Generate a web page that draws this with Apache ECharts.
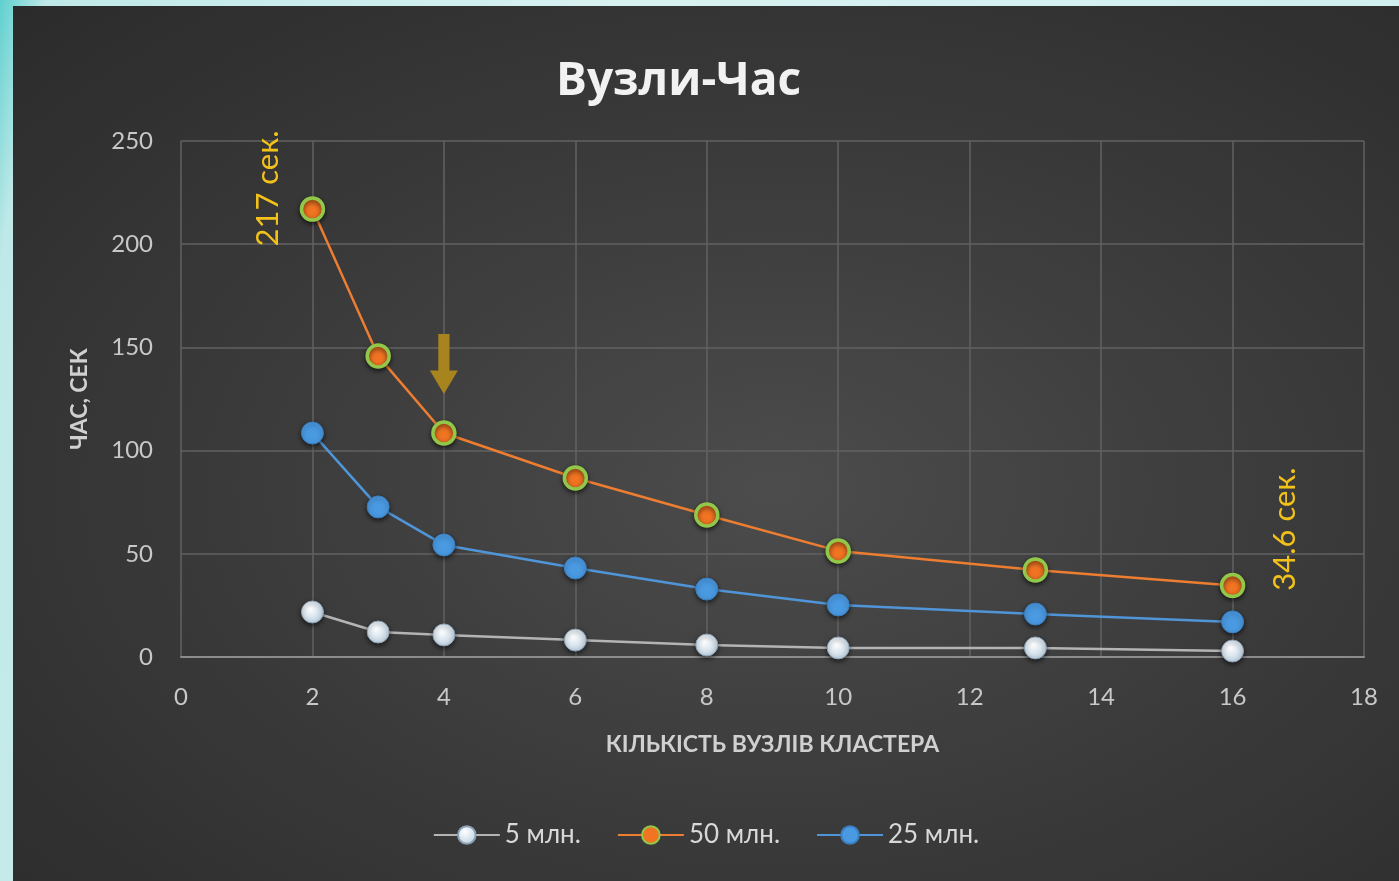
<!DOCTYPE html>
<html>
<head>
<meta charset="utf-8">
<script src="https://cdn.jsdelivr.net/npm/echarts@6/dist/echarts.min.js"></script>
<style>
  html, body { margin: 0; padding: 0; width: 1399px; height: 881px; overflow: hidden; }
  body { background: linear-gradient(100deg, #5fd0cf 0%, #bfe9e8 3%, #d8f1f1 40%, #cfeeee 100%); position: relative; }
  #chart {
    position: absolute; left: 13px; top: 6px; width: 1386px; height: 875px;
    background: radial-gradient(ellipse at 55% 55%, #4c4c4c 0%, #3c3c3c 45%, #2b2b2b 100%);
  }
</style>
</head>
<body>
<div id="chart"></div>
<script>
  // вузли кластера
  const nodes = [2, 3, 4, 6, 8, 10, 13, 16];
  // час, сек
  const time5 = [21.8, 12.1, 10.7, 8.2, 5.8, 4.4, 4.4, 2.9];
  const time50 = [217, 145.8, 108.5, 86.7, 68.8, 51.4, 42.2, 34.6];
  const time25 = [108.5, 72.7, 54.3, 43.1, 32.9, 25.2, 20.8, 17];
  const seriesNames = ['5 млн.', '50 млн.', '25 млн.'];

  const pairs = arr => nodes.map((n, i) => [n, arr[i]]);

  const chart = echarts.init(document.getElementById('chart'));
  const font = 'Lato, "Open Sans", sans-serif';

  // підпис-примітка (без маркера)
  const note = (coord, text) => ({
    coord: coord,
    symbol: 'circle',
    symbolSize: 2,
    itemStyle: { color: 'rgba(0,0,0,0)', borderWidth: 0, shadowBlur: 0 },
    label: {
      show: true, formatter: text, rotate: 90, position: 'inside',
      color: '#f2c21a', fontSize: 31, fontFamily: font
    }
  });

  const option = {
    backgroundColor: 'transparent',
    title: {
      text: 'Вузли-Час',
      left: 538,
      top: 48,
      textStyle: { color: '#f2f2f2', fontSize: 46, fontWeight: 'bold', fontFamily: '"Open Sans", sans-serif' }
    },
    legend: {
      bottom: 28,
      left: 'center',
      itemWidth: 66,
      itemHeight: 22,
      itemGap: 36,
      data: seriesNames,
      textStyle: { color: '#d8d8d8', fontSize: 26, fontFamily: font }
    },
    grid: { left: 168, right: 35, top: 135, bottom: 224 },
    xAxis: {
      type: 'value',
      min: 0, max: 18, interval: 2,
      name: 'КІЛЬКІСТЬ ВУЗЛІВ КЛАСТЕРА',
      nameLocation: 'middle',
      nameGap: 76,
      nameTextStyle: { color: '#d0d0d0', fontSize: 23, fontWeight: 'bold', fontFamily: font },
      axisLine: { lineStyle: { color: '#8c8c8c', width: 2 } },
      axisTick: { show: false },
      axisLabel: { color: '#c8c8c8', fontSize: 24, margin: 28, fontFamily: font },
      splitLine: { show: true, lineStyle: { color: '#626262', width: 1.5 } }
    },
    yAxis: {
      type: 'value',
      min: 0, max: 250, interval: 50,
      name: 'ЧАС, СЕК',
      nameLocation: 'middle',
      nameGap: 90,
      nameTextStyle: { color: '#d0d0d0', fontSize: 23, fontWeight: 'bold', fontFamily: font },
      axisLine: { show: false },
      axisTick: { show: false },
      axisLabel: { color: '#c8c8c8', fontSize: 24, margin: 28, fontFamily: font },
      splitLine: { show: true, lineStyle: { color: '#626262', width: 1.5 } }
    },
    series: [
      {
        name: seriesNames[0],
        type: 'line',
        data: pairs(time5),
        symbol: 'circle',
        symbolSize: 22,
        lineStyle: { color: '#b4b4b4', width: 2.5 },
        itemStyle: {
          color: new echarts.graphic.RadialGradient(0.4, 0.35, 0.7, [
            { offset: 0, color: '#ffffff' },
            { offset: 1, color: '#bcd0e0' }
          ]),
          borderColor: '#8aa0b4', borderWidth: 1,
          shadowColor: 'rgba(0,0,0,0.6)', shadowBlur: 5, shadowOffsetY: 2
        }
      },
      {
        name: seriesNames[1],
        type: 'line',
        data: pairs(time50),
        symbol: 'circle',
        symbolSize: 22,
        lineStyle: { color: '#ed7d31', width: 2.5 },
        itemStyle: {
          color: '#f07422', borderColor: '#92c84a', borderWidth: 3.5,
          shadowColor: 'rgba(0,0,0,0.6)', shadowBlur: 5, shadowOffsetY: 2
        },
        markPoint: {
          data: [
            note([1.32, 227], '217 сек.'),
            note([16.8, 62], '34.6 сек.'),
            {
              coord: [4, 142],
              symbol: 'path://M3,0 L7,0 L7,11 L10,11 L5,18 L0,11 L3,11 Z',
              symbolSize: [28, 60],
              itemStyle: { color: '#a8841e', borderWidth: 0, shadowBlur: 0 },
              label: { show: false }
            }
          ]
        }
      },
      {
        name: seriesNames[2],
        type: 'line',
        data: pairs(time25),
        symbol: 'circle',
        symbolSize: 22,
        lineStyle: { color: '#4f95d8', width: 2.5 },
        itemStyle: {
          color: '#4a9ae2', borderColor: '#3b7fc0', borderWidth: 1,
          shadowColor: 'rgba(0,0,0,0.6)', shadowBlur: 5, shadowOffsetY: 2
        }
      }
    ]
  };

  chart.setOption(option);
</script>
</body>
</html>
